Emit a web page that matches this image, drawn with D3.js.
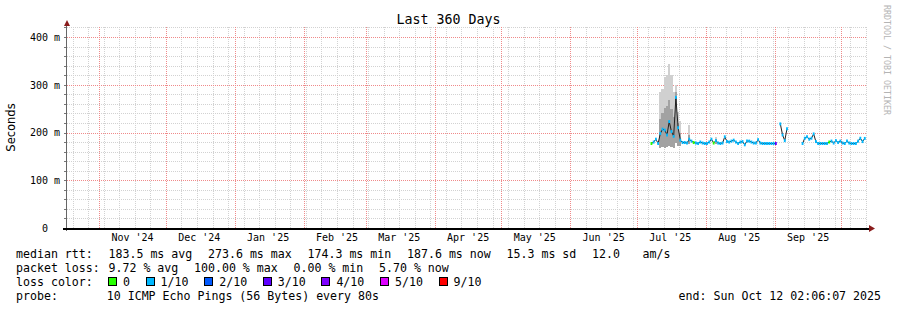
<!DOCTYPE html>
<html>
<head>
<meta charset="utf-8">
<script src="https://cdn.jsdelivr.net/npm/d3@7"></script>
<style>
html, body { margin: 0; padding: 0; background: #fff; }
svg { display: block; }
text { white-space: pre; }
</style>
</head>
<body>
<svg id="chart" width="897" height="310"></svg>
<script>
// median rtt per day (ms) starting 2025-07-07, null = no reply
const firstDay = "2025-07-07";
const median = [
  177, 180, 186, 177, 198, 207, 205,
  195, 223, 202, 192, 273.6, 210, 184,
  179, 179, 178, 186, 182, 179, 178,
  177, 180, 178, 177, 177, 180, 186,
  178, 183, 178, 177, 178, 191, 181,
  180, 182, 184, 180, 177, 180, 181,
  174.3, 182, 182, 180, 178, 178, 185,
  178, 177, 177, 177, 177, 177, 177,
  177, null, 218, 195, 183, 208, null,
  null, null, null, null, null, 177, 188,
  191, 186, 188, 197, 181, 177, 177,
  177, 177, 177, 180, 182, 178, 183,
  179, 182, 178, 177, 182, 178, 177,
  177, 177, 182, 188, 181, 187.6
];
// lost pings out of 10, same days
const loss = [
  0, 1, 1, 1, 1, 1, 1,
  1, 1, 1, 1, 1, 1, 1,
  1, 1, 1, 1, 1, 0, 1,
  1, 1, 1, 1, 1, 1, 1,
  0, 1, 1, 1, 1, 1, 1,
  1, 1, 1, 1, 1, 1, 1,
  1, 1, 1, 1, 1, 1, 1,
  1, 1, 1, 1, 1, 1, 1,
  3, 10, 1, 1, 1, 1, 10,
  10, 10, 10, 10, 10, 1, 1,
  1, 1, 1, 1, 1, 1, 1,
  1, 1, 1, 0, 1, 1, 1,
  1, 1, 1, 1, 1, 1, 1,
  1, 1, 1, 1, 1, 1
];

// smoke (spread of the pings) where it shows above the median line
const smokeDays  = ["2025-07-11", "2025-07-12", "2025-07-13", "2025-07-14", "2025-07-15", "2025-07-16",
                    "2025-07-17", "2025-07-18", "2025-07-19", "2025-07-20", "2025-07-24", "2025-08-05"];
const smokeMax   = [285, 292, 317, 321, 343, 321, 285, 299, 244, 225, 216, 190];
const smokeUpper = [228, 240, 252, 256, 268, 250, 232, 285, 220, 198, 195, 186];
const smokeMin   = [168, 170, 168, 170, 172, 170, 168, 178, 172, 172, 176, 176];

const monthTicks  = ["2024-11-16", "2024-12-16", "2025-01-16", "2025-02-16", "2025-03-16", "2025-04-16",
                     "2025-05-16", "2025-06-16", "2025-07-16", "2025-08-16", "2025-09-16"];
const monthLabels = ["Nov '24", "Dec '24", "Jan '25", "Feb '25", "Mar '25", "Apr '25",
                     "May '25", "Jun '25", "Jul '25", "Aug '25", "Sep '25"];
const yTicks = [0, 100, 200, 300, 400];
const yTickLabels = ["0  ", "100 m", "200 m", "300 m", "400 m"];

const lossLabels = ["0", "1/10", "2/10", "3/10", "4/10", "5/10", "9/10"];
const lossColors = ["#26ff00", "#00b8ff", "#0059ff", "#5e00ff", "#7e00ff", "#dd00ff", "#ff0000"];

const rttItems  = ["median rtt:  ", "183.5 ms avg  ", "273.6 ms max  ", "174.3 ms min  ",
                   "187.6 ms now  ", "15.3 ms sd  ", "12.0   ", "am/s"];
const lossItems = ["packet loss: ", "9.72 % avg  ", "100.00 % max  ", "0.00 % min  ", "5.70 % now"];
const probeLine = "probe:       10 ICMP Echo Pings (56 Bytes) every 80s";
const endLine   = "end: Sun Oct 12 02:06:07 2025";

// ---- layout ----
const mono = "DejaVu Sans Mono";
const plotL = 67, plotR = 867, plotT = 27, plotB = 228;
const charW = 7, glue = 1.5;
const parse = d3.utcParse("%Y-%m-%d");
const noon = d => d3.utcHour.offset(parse(d), 12);

const svg = d3.select("#chart");
svg.append("rect").attr("width", 897).attr("height", 310).attr("fill", "#fff");

const x = d3.scaleUtc()
    .domain([new Date(Date.UTC(2024, 9, 17, 12)), new Date(Date.UTC(2025, 9, 12, 12))])
    .range([plotL, plotR]);
const y = d3.scaleLinear().domain([0, 421]).range([plotB, plotT]);
const px = v => Math.round(v) + 0.5;

const days = median.map((v, i) => d3.utcDay.offset(noon(firstDay), i));

// grid
const grid = svg.append("g").attr("shape-rendering", "crispEdges").attr("stroke-dasharray", "1,1");
const months = d3.utcMonth.range(x.domain()[0], x.domain()[1]);
const weeks = d3.utcSunday.range(x.domain()[0], x.domain()[1]);

grid.selectAll(".vminor").data(weeks).enter().append("line")
    .attr("x1", d => px(x(d))).attr("x2", d => px(x(d)))
    .attr("y1", plotT).attr("y2", plotB)
    .attr("stroke", "#d2d2d2");
grid.selectAll(".hminor").data(d3.range(20, 421, 20).filter(v => v % 100)).enter().append("line")
    .attr("x1", plotL).attr("x2", plotR)
    .attr("y1", d => px(y(d))).attr("y2", d => px(y(d)))
    .attr("stroke", "#d2d2d2");
grid.selectAll(".vmajor").data(months).enter().append("line")
    .attr("x1", d => px(x(d))).attr("x2", d => px(x(d)))
    .attr("y1", plotT).attr("y2", plotB)
    .attr("stroke", "#f08a8a");
grid.selectAll(".hmajor").data(yTicks.slice(1)).enter().append("line")
    .attr("x1", plotL).attr("x2", plotR)
    .attr("y1", d => px(y(d))).attr("y2", d => px(y(d)))
    .attr("stroke", "#f08a8a");

// smoke
const halfDay = d => [d3.utcHour.offset(d, -12), d3.utcHour.offset(d, 12)];
const smoke = svg.append("g").attr("shape-rendering", "crispEdges");
smoke.selectAll(".outer").data(smokeDays).enter().append("rect")
    .attr("x", d => x(halfDay(noon(d))[0]))
    .attr("width", d => x(halfDay(noon(d))[1]) - x(halfDay(noon(d))[0]))
    .attr("y", (d, i) => y(smokeMax[i]))
    .attr("height", (d, i) => y(smokeMin[i]) - y(smokeMax[i]))
    .attr("fill", "#d0d0d0");
smoke.selectAll(".inner").data(smokeDays).enter().append("rect")
    .attr("x", d => x(halfDay(noon(d))[0]))
    .attr("width", d => x(halfDay(noon(d))[1]) - x(halfDay(noon(d))[0]))
    .attr("y", (d, i) => y(smokeUpper[i]))
    .attr("height", (d, i) => y(smokeMin[i]) - y(smokeUpper[i]))
    .attr("fill", "#a2a2a2");

// median: thin dark line, then loss-coloured segments on top
const pts = median.map((v, i) => ({ t: days[i], v: v, loss: loss[i] }));
svg.append("path")
    .datum(pts)
    .attr("fill", "none")
    .attr("stroke", "#202020")
    .attr("stroke-width", 1)
    .attr("d", d3.line().defined(d => d.v != null).x(d => x(d.t)).y(d => y(d.v)));

const lossIndex = n => n <= 5 ? n : 6;
svg.append("g").selectAll("line").data(pts.filter(d => d.v != null)).enter().append("line")
    .attr("x1", d => x(halfDay(d.t)[0]) + 0.2)
    .attr("x2", d => x(halfDay(d.t)[1]) - 0.2)
    .attr("y1", d => y(d.v)).attr("y2", d => y(d.v))
    .attr("stroke", d => lossColors[lossIndex(d.loss)])
    .attr("stroke-width", 3);

// axes
const axes = svg.append("g").attr("shape-rendering", "crispEdges");
axes.selectAll(".ytick").data(d3.range(0, 421, 20)).enter().append("line")
    .attr("x1", 64).attr("x2", 67)
    .attr("y1", d => px(y(d))).attr("y2", d => px(y(d)))
    .attr("stroke", "#777");
axes.append("line").attr("x1", 66.5).attr("x2", 66.5).attr("y1", 231).attr("y2", 24)
    .attr("stroke", "#666");
axes.append("line").attr("x1", 63).attr("x2", 870).attr("y1", 228.5).attr("y2", 228.5)
    .attr("stroke", "#000").attr("stroke-width", 2);
svg.append("path").attr("d", "M64,26L70,26L67,20Z").attr("fill", "#8a1c1c");
svg.append("path").attr("d", "M869,225L869,232L875,228.5Z").attr("fill", "#8a1c1c");

// tick labels
svg.selectAll(".ylab").data(yTicks).enter().append("text")
    .attr("x", 60).attr("y", d => y(d) + 3.8)
    .attr("text-anchor", "end")
    .attr("font-family", mono).attr("font-size", 10).attr("fill", "#000")
    .text((d, i) => yTickLabels[i]);
svg.selectAll(".xlab").data(monthTicks).enter().append("text")
    .attr("x", d => x(parse(d))).attr("y", 241)
    .attr("text-anchor", "middle")
    .attr("font-family", mono).attr("font-size", 10)
    .text((d, i) => monthLabels[i]);

// titles
svg.append("text").attr("x", 448.5).attr("y", 24).attr("text-anchor", "middle")
    .attr("font-family", mono).attr("font-size", 13.3).text("Last 360 Days");
svg.append("text").attr("transform", "translate(15,127.5) rotate(-90)")
    .attr("text-anchor", "middle")
    .attr("font-family", "DejaVu Sans").attr("font-size", 11.5).text("Seconds");
svg.append("text").attr("transform", "translate(883.5,5) rotate(90)")
    .attr("font-family", mono).attr("font-size", 8.3).attr("fill", "#b4b4b4")
    .text("RRDTOOL / TOBI OETIKER");

// legend: items placed one after another with a little glue between them
const legend = svg.append("g").attr("font-family", mono).attr("font-size", 11.6);
function legendRow(items, yPos) {
  let cx = 16;
  items.forEach(s => {
    legend.append("text").attr("x", cx).attr("y", yPos).text(s);
    cx += s.length * charW + glue;
  });
}
legendRow(rttItems, 258);
legendRow(lossItems, 272);
legend.append("text").attr("x", 16).attr("y", 286).text("loss color:");
legend.append("text").attr("x", 16).attr("y", 300).text(probeLine);
legend.append("text").attr("x", 881).attr("y", 300).attr("text-anchor", "end").text(endLine);

let cursor = 108;
const boxPos = lossLabels.map(l => { const p = cursor; cursor += 15 + l.length * charW + 15.6; return p; });
const items = legend.selectAll(".lossitem").data(lossLabels).enter().append("g");
items.append("rect")
    .attr("x", (d, i) => Math.round(boxPos[i]) + 0.5).attr("y", 277.5)
    .attr("width", 8).attr("height", 8)
    .attr("fill", (d, i) => lossColors[i])
    .attr("stroke", "#000").attr("shape-rendering", "crispEdges");
items.append("text")
    .attr("x", (d, i) => boxPos[i] + 15).attr("y", 286)
    .text(d => d);
</script>
</body>
</html>
